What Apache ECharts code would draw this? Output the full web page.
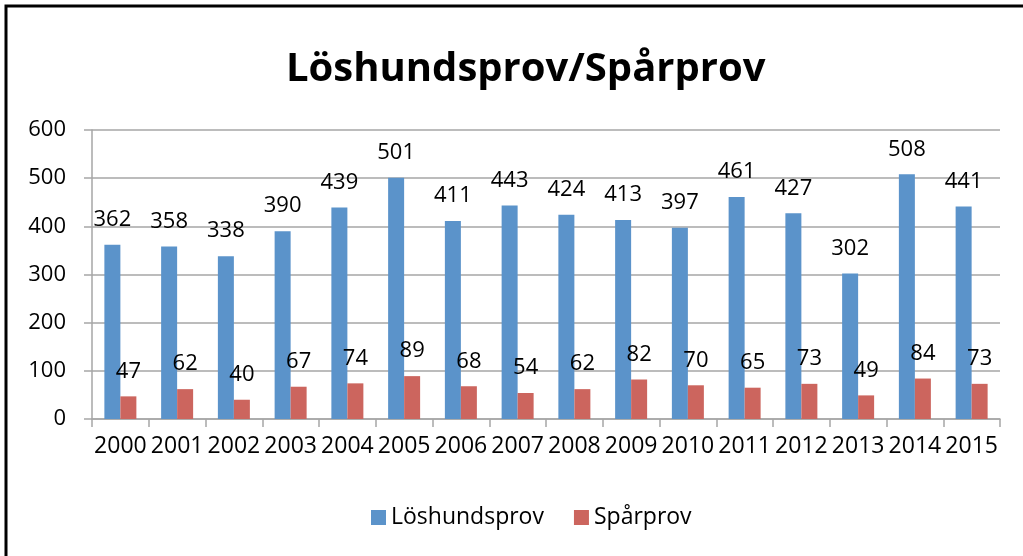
<!DOCTYPE html>
<html>
<head>
<meta charset="utf-8">
<script src="https://cdn.jsdelivr.net/npm/echarts@6/dist/echarts.min.js"></script>
<style>
	html, body { margin: 0; padding: 0; background: #fff; }
	#chart { width: 1023px; height: 556px; }
</style>
</head>
<body>
<div id="chart"></div>
<script>
const years = ['2000', '2001', '2002', '2003', '2004', '2005', '2006', '2007',
	'2008', '2009', '2010', '2011', '2012', '2013', '2014', '2015']
const loshund = [362, 358, 338, 390, 439, 501, 411, 443, 424, 413, 397, 461, 427, 302, 508, 441]
const sparprov = [47, 62, 40, 67, 74, 89, 68, 54, 62, 82, 70, 65, 73, 49, 84, 73]
const yTicks = [0, 100, 200, 300, 400, 500, 600]

const font = "'Open Sans', sans-serif"
const gridGray = '#a6a6a6'

const chart = echarts.init(document.getElementById('chart'))

const labelStyle = {
	show: true,
	position: 'top',
	distance: 14,
	fontFamily: font,
	fontSize: 22,
	color: '#000'
}

chart.setOption({
	animation: false,
	backgroundColor: '#fff',
	title: {
		text: 'Löshundsprov/Spårprov',
		left: 281,
		top: 45,
		textStyle: {
			fontFamily: font,
			fontWeight: 'bold',
			fontSize: 40,
			color: '#000'
		}
	},
	graphic: [{
		type: 'rect',
		shape: { x: 6, y: 6, width: 1100, height: 700 },
		style: { fill: 'none', stroke: '#000', lineWidth: 3 },
		silent: true
	}],
	legend: {
		bottom: 22,
		left: 366,
		icon: 'rect',
		itemWidth: 15,
		itemHeight: 15,
		itemGap: 30,
		textStyle: { fontFamily: font, fontSize: 23, color: '#000' },
		data: ['Löshundsprov', 'Spårprov']
	},
	grid: { left: 92, right: 23, top: 130, bottom: 137 },
	xAxis: {
		type: 'category',
		data: years,
		axisLine: { lineStyle: { color: gridGray, width: 1.5 } },
		axisTick: { show: true, length: 8, lineStyle: { color: gridGray, width: 1.5 } },
		axisLabel: { fontFamily: font, fontSize: 23, color: '#000', margin: 16, interval: 0 }
	},
	yAxis: {
		type: 'value',
		min: yTicks[0],
		max: yTicks[yTicks.length - 1],
		interval: 100,
		axisLine: { show: true, lineStyle: { color: gridGray, width: 1.5 } },
		axisTick: { show: true, length: 8, lineStyle: { color: gridGray, width: 1.5 } },
		axisLabel: { fontFamily: font, fontSize: 22, color: '#000', margin: 26 },
		splitLine: { lineStyle: { color: gridGray, width: 1.5 } }
	},
	series: [
		{
			name: 'Löshundsprov',
			type: 'bar',
			data: loshund,
			barWidth: 16,
			barGap: '0%',
			itemStyle: { color: '#5b93ca' },
			label: labelStyle
		},
		{
			name: 'Spårprov',
			type: 'bar',
			data: sparprov,
			barWidth: 16,
			itemStyle: { color: '#cc655e' },
			label: labelStyle
		}
	]
})

window.addEventListener('resize', () => chart.resize())
</script>
</body>
</html>
